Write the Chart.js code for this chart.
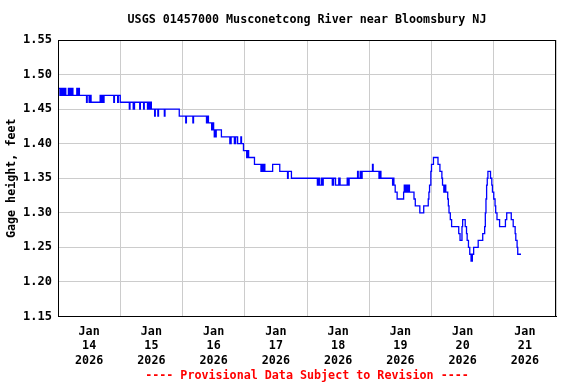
<!DOCTYPE html>
<html>
<head>
<meta charset="utf-8">
<script src="https://cdn.jsdelivr.net/npm/chart.js@4.4.1/dist/chart.umd.min.js"></script>
<style>
  html, body { margin: 0; padding: 0; background: #fff; }
  #wrap { width: 576px; height: 384px; }
</style>
</head>
<body>
<div id="wrap"><canvas id="gageChart" width="576" height="384"></canvas></div>
<script>
// hours since Jan 14 2026 00:00 at which the reading changes, and the new reading (ft)
const hoursFromStart = [
  0.25, 0.75, 1.0, 1.25, 1.5, 1.75, 2.0, 2.5, 2.75, 3.0, 4.0, 4.25, 4.75, 5.0, 5.5, 5.75, 7.25, 7.5, 7.75, 8.25,
  11.0, 11.25, 12.0, 12.25, 12.75, 16.25, 16.5, 17.0, 17.25, 17.75, 21.5, 21.75, 23.0, 23.25,
  24.0, 27.5, 27.75, 29.0, 29.5, 31.5, 31.75, 33.0, 33.25, 34.5, 34.75, 35.25, 35.5, 36.0, 37.25, 37.5, 38.5, 38.75, 41.0, 41.25, 46.75,
  49.25, 49.5, 52.0, 52.25, 57.25, 57.5, 58.0, 59.25, 59.75, 60.0, 60.25, 60.5, 60.75, 61.0, 63.0, 66.25, 66.75, 68.0, 68.5, 69.25, 70.5, 70.75, 71.5,
  72.75, 73.0, 73.5, 75.75, 78.25, 78.75, 79.0, 79.5, 79.75, 82.75, 85.5, 88.5, 88.75, 90.0,
  100.0, 100.5, 100.75, 101.5, 101.75, 102.25, 105.75, 106.25, 107.0, 108.25, 108.75, 111.5, 111.75, 112.25, 115.5, 115.75, 116.5, 116.75, 117.25,
  121.25, 121.5, 123.75, 124.0, 124.5, 129.0, 129.25, 129.5, 130.0, 130.75, 133.25, 133.5, 133.75, 134.25, 134.75, 135.25, 135.5, 137.25, 137.75, 139.5, 141.0, 142.75, 143.0, 143.25, 143.75,
  144.0, 144.75, 146.5, 147.25, 148.0, 148.25, 148.75, 149.0, 149.5, 150.25, 150.5, 150.75, 151.25, 151.75, 154.5, 155.0, 155.75, 156.0, 157.0, 157.5, 157.75, 158.25, 158.75, 159.25, 159.75, 160.25, 162.0, 163.75, 164.5, 164.75, 165.0, 165.25, 165.5, 165.75, 166.75, 167.25, 167.5,
  168.0, 168.5, 168.75, 169.25, 170.25, 172.5, 173.0, 174.75, 175.5, 176.25, 176.5, 177.0, 177.25, 178.5
];
const gageHeightFeet = [
  1.48, 1.47, 1.48, 1.47, 1.48, 1.47, 1.48, 1.47, 1.48, 1.47, 1.48, 1.47, 1.48, 1.47, 1.48, 1.47, 1.48, 1.47, 1.48, 1.47,
  1.46, 1.47, 1.46, 1.47, 1.46, 1.47, 1.46, 1.47, 1.46, 1.47, 1.46, 1.47, 1.46, 1.47,
  1.46, 1.45, 1.46, 1.45, 1.46, 1.45, 1.46, 1.45, 1.46, 1.45, 1.46, 1.45, 1.46, 1.45, 1.44, 1.45, 1.44, 1.45, 1.44, 1.45, 1.44,
  1.43, 1.44, 1.43, 1.44, 1.43, 1.44, 1.43, 1.42, 1.43, 1.42, 1.41, 1.42, 1.41, 1.42, 1.41, 1.40, 1.41, 1.40, 1.41, 1.40, 1.41, 1.40, 1.39,
  1.38, 1.39, 1.38, 1.37, 1.36, 1.37, 1.36, 1.37, 1.36, 1.37, 1.36, 1.35, 1.36, 1.35,
  1.34, 1.35, 1.34, 1.35, 1.34, 1.35, 1.34, 1.35, 1.34, 1.35, 1.34, 1.35, 1.34, 1.35, 1.36, 1.35, 1.36, 1.35, 1.36,
  1.37, 1.36, 1.35, 1.36, 1.35, 1.34, 1.35, 1.34, 1.33, 1.32, 1.33, 1.34, 1.33, 1.34, 1.33, 1.34, 1.33, 1.32, 1.31, 1.30, 1.31, 1.32, 1.33, 1.34, 1.36,
  1.37, 1.38, 1.37, 1.36, 1.35, 1.34, 1.33, 1.34, 1.33, 1.32, 1.31, 1.30, 1.29, 1.28, 1.27, 1.26, 1.28, 1.29, 1.28, 1.27, 1.26, 1.25, 1.24, 1.23, 1.24, 1.25, 1.26, 1.27, 1.28, 1.30, 1.32, 1.34, 1.35, 1.36, 1.35, 1.34, 1.33,
  1.32, 1.31, 1.30, 1.29, 1.28, 1.29, 1.30, 1.29, 1.28, 1.27, 1.26, 1.25, 1.24, 1.24
];

const monthLabel = 'Jan';
const yearLabel = '2026';
const dayLabels = ['14', '15', '16', '17', '18', '19', '20', '21'];
const yTickLabels = ['1.15', '1.20', '1.25', '1.30', '1.35', '1.40', '1.45', '1.50', '1.55'];

const MONO = '"DejaVu Sans Mono", "Liberation Mono", monospace';

const points = hoursFromStart.map((h, i) => ({ x: h, y: gageHeightFeet[i] }));

// black frame round the plot area (Chart.js only draws the axis-side borders)
const framePlugin = {
  id: 'plotFrame',
  afterDraw(chart) {
    const { ctx, chartArea: a } = chart;
    ctx.save();
    ctx.strokeStyle = '#000';
    ctx.lineWidth = 1;
    ctx.strokeRect(Math.round(a.left) + 0.5, Math.round(a.top) + 0.5,
      Math.round(a.right - a.left) - 1, Math.round(a.bottom - a.top));
    ctx.restore();
  }
};

new Chart(document.getElementById('gageChart'), {
  type: 'line',
  data: {
    datasets: [{
      data: points,
      borderColor: '#0000ff',
      borderWidth: 1.3,
      pointRadius: 0,
      stepped: true,
      fill: false
    }]
  },
  options: {
    responsive: false,
    animation: false,
    devicePixelRatio: 1,
    layout: { padding: { left: 0, right: 20, top: 0, bottom: 0 } },
    plugins: {
      legend: { display: false },
      tooltip: { enabled: false },
      title: {
        display: true,
        fullSize: false,
        text: 'USGS 01457000 Musconetcong River near Bloomsbury NJ',
        color: '#000',
        font: { family: MONO, size: 11.7, weight: 'bold' },
        padding: { top: 13, bottom: 13 }
      },
      subtitle: {
        display: true,
        position: 'bottom',
        fullSize: false,
        text: '---- Provisional Data Subject to Revision ----',
        color: '#ff0000',
        font: { family: MONO, size: 11.7, weight: 'bold' },
        padding: { top: 4, bottom: 1.5 }
      }
    },
    scales: {
      x: {
        type: 'linear',
        min: 0,
        max: 192,
        afterFit(scale) { scale.height = 48; },
        afterBuildTicks(scale) {
          const t = [];
          for (let v = 0; v <= 192; v += 12) t.push({ value: v });
          scale.ticks = t;
        },
        grid: {
          drawTicks: false,
          color: (c) => (c.tick && c.tick.value % 24 === 0) ? '#cccccc' : 'rgba(0,0,0,0)',
          lineWidth: 1
        },
        border: { display: true, color: '#000', width: 1 },
        ticks: {
          autoSkip: false,
          maxRotation: 0,
          padding: 8,
          color: '#000',
          font: { family: MONO, size: 11.7, weight: 'bold', lineHeight: 1.24 },
          callback(v) {
            if (v % 24 !== 12) return '';
            const d = dayLabels[(v - 12) / 24];
            return d ? [monthLabel, d, yearLabel] : '';
          }
        }
      },
      y: {
        min: 1.15,
        max: 1.55,
        afterFit(scale) { scale.width = 58; },
        afterBuildTicks(scale) {
          scale.ticks = yTickLabels.map(s => ({ value: parseFloat(s) }));
        },
        grid: { drawTicks: false, color: '#cccccc', lineWidth: 1 },
        border: { display: true, color: '#000', width: 1 },
        ticks: {
          padding: 6,
          color: '#000',
          font: { family: MONO, size: 12, weight: 'bold' },
          callback(v) { return yTickLabels.find(s => Math.abs(parseFloat(s) - v) < 1e-6) || ''; }
        },
        title: {
          display: true,
          text: 'Gage height, feet',
          color: '#000',
          font: { family: MONO, size: 11.7, weight: 'bold' },
          padding: { top: 5, bottom: 0 }
        }
      }
    }
  },
  plugins: [framePlugin]
});
</script>
</body>
</html>
